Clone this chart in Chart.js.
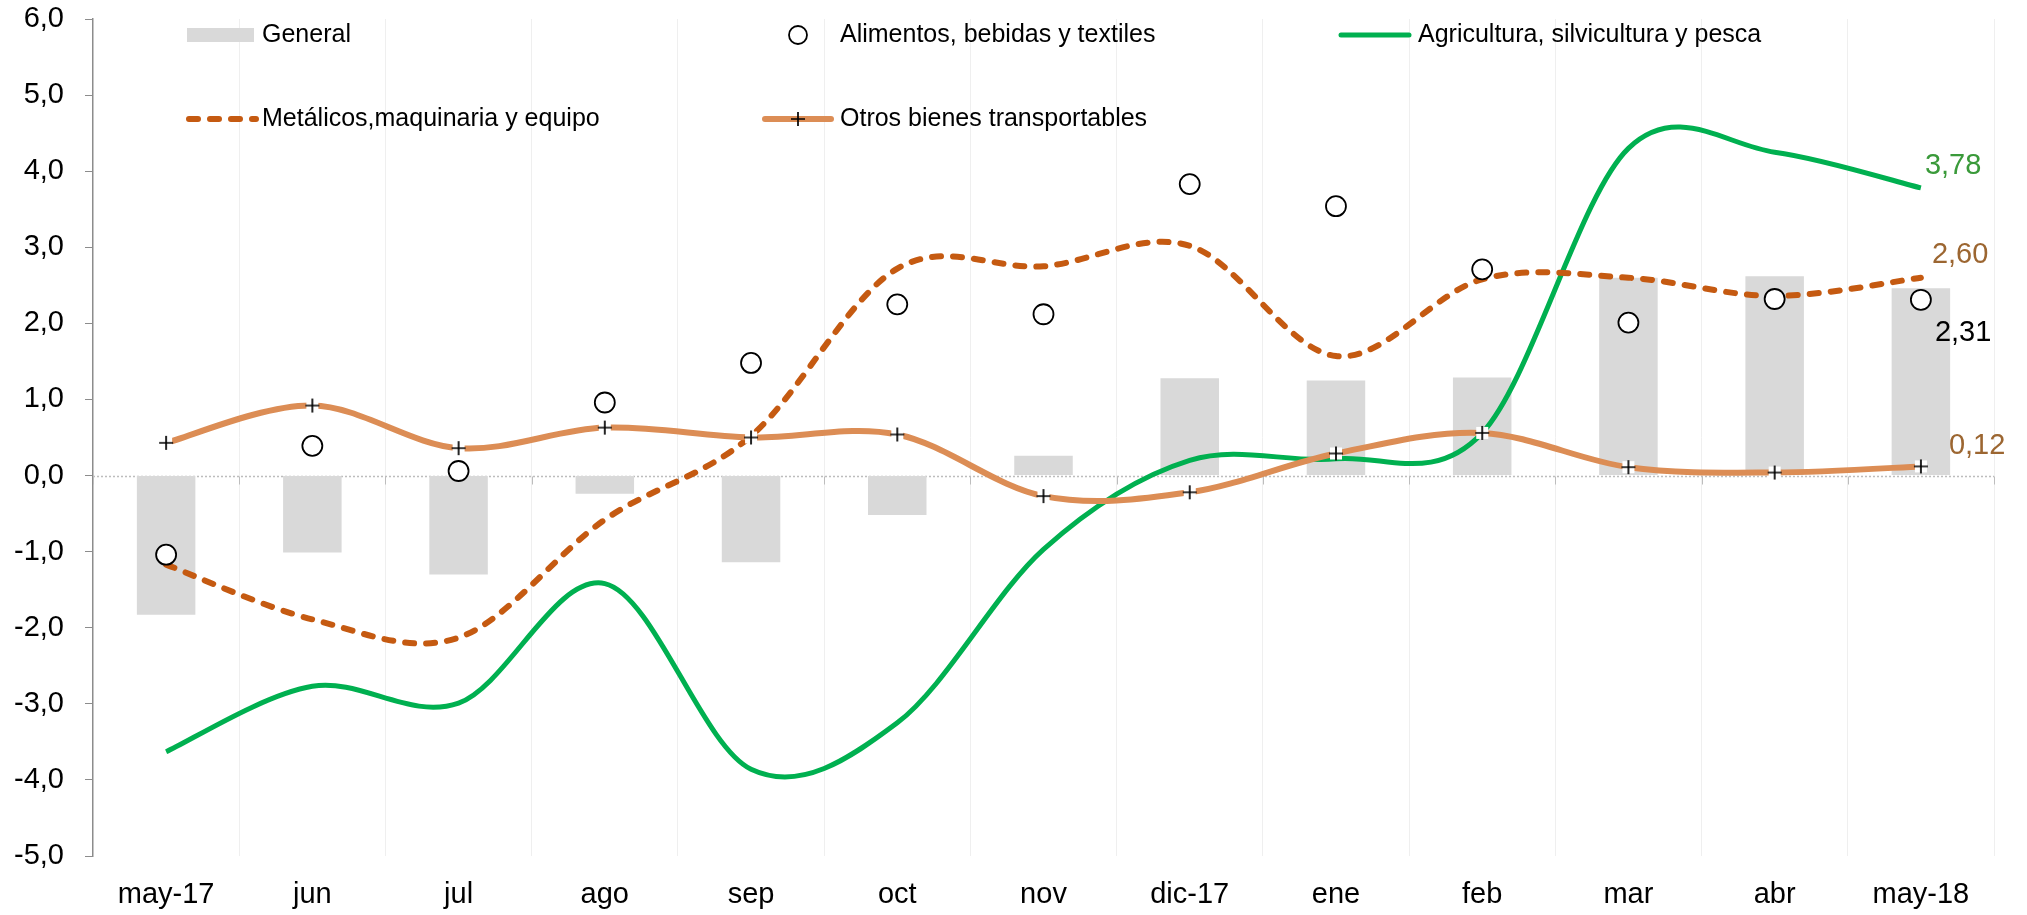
<!DOCTYPE html>
<html>
<head>
<meta charset="utf-8">
<script src="https://cdn.jsdelivr.net/npm/chart.js@4.4.0/dist/chart.umd.min.js"></script>
<style>
html, body { margin: 0; padding: 0; background: #fff; }
</style>
</head>
<body>
<canvas id="myChart" width="2027" height="915"></canvas>
<script>
// data
const months = ['may-17', 'jun', 'jul', 'ago', 'sep', 'oct', 'nov', 'dic-17', 'ene', 'feb', 'mar', 'abr', 'may-18'];
const general = [-1.83, -1.01, -1.30, -0.24, -1.14, -0.52, 0.26, 1.28, 1.25, 1.29, 2.60, 2.62, 2.46];
const alimentos = [-1.04, 0.39, 0.06, 0.96, 1.48, 2.25, 2.12, 3.83, 3.54, 2.71, 2.01, 2.32, 2.31];
const agricultura = [-3.63, -2.77, -2.99, -1.42, -3.86, -3.25, -0.97, 0.20, 0.22, 0.56, 4.30, 4.25, 3.78];
const metalicos = [-1.17, -1.89, -2.13, -0.58, 0.52, 2.72, 2.75, 3.02, 1.57, 2.58, 2.60, 2.36, 2.60];
const otros = [0.43, 0.92, 0.36, 0.63, 0.50, 0.54, -0.27, -0.22, 0.29, 0.56, 0.11, 0.04, 0.12];
const yTicks = [-5, -4, -3, -2, -1, 0, 1, 2, 3, 4, 5, 6];

const FONT = "'Liberation Sans', Arial, sans-serif";
const fmt = v => v.toFixed(1).replace('.', ',');

// + marker on a small white square
function plusMarker() {
    const c = document.createElement('canvas');
    c.width = 16; c.height = 16;
    const g = c.getContext('2d');
    g.fillStyle = '#fff';
    g.fillRect(2, 2, 12, 12);
    g.strokeStyle = '#000';
    g.lineWidth = 1.7;
    g.beginPath();
    g.moveTo(8, 1); g.lineTo(8, 15);
    g.moveTo(1, 8); g.lineTo(15, 8);
    g.stroke();
    return c;
}
const plus = plusMarker();

// Excel style smoothing (uniform Catmull-Rom) for the line control points
const excelSmooth = {
    id: 'excelSmooth',
    beforeDatasetsDraw(chart) {
        chart.data.datasets.forEach((ds, i) => {
            const meta = chart.getDatasetMeta(i);
            if (meta.type !== 'line' || ds.showLine === false) return;
            meta.dataset.updateControlPoints(chart.chartArea, 'x');
            const pts = meta.data;
            for (let k = 0; k < pts.length; k++) {
                const p = pts[k];
                const a = pts[Math.max(k - 1, 0)];
                const b = pts[Math.min(k + 1, pts.length - 1)];
                const tx = (b.x - a.x) / 6;
                const ty = (b.y - a.y) / 6;
                p.cp1x = p.x - tx; p.cp1y = p.y - ty;
                p.cp2x = p.x + tx; p.cp2y = p.y + ty;
            }
            meta.dataset._path = undefined;
        });
    }
};

// dotted zero line with small ticks at category boundaries
const zeroLine = {
    id: 'zeroLine',
    beforeDatasetsDraw(chart) {
        const {ctx, chartArea, scales} = chart;
        const y0 = Math.round(scales.y.getPixelForValue(0)) + 0.5;
        ctx.save();
        ctx.strokeStyle = '#bdbdbd';
        ctx.lineWidth = 1.5;
        ctx.setLineDash([2, 2]);
        ctx.beginPath();
        ctx.moveTo(chartArea.left, y0);
        ctx.lineTo(chartArea.right, y0);
        ctx.stroke();
        ctx.setLineDash([]);
        ctx.lineWidth = 1;
        const step = (chartArea.right - chartArea.left) / months.length;
        ctx.beginPath();
        for (let i = 0; i <= months.length; i++) {
            const x = Math.round(chartArea.left + i * step) + 0.5;
            ctx.moveTo(x, y0);
            ctx.lineTo(x, y0 + 8);
        }
        ctx.stroke();
        ctx.restore();
    }
};

// values written next to the last point
const endLabels = {
    id: 'endLabels',
    afterDatasetsDraw(chart) {
        const {ctx} = chart;
        const items = [
            {ds: 1, text: '3,78', color: '#3a9a3a', dx: 4, dy: -22},
            {ds: 2, text: '2,60', color: '#9c6631', dx: 11, dy: -23},
            {ds: 4, text: '2,31', color: '#000000', dx: 14, dy: 33},
            {ds: 3, text: '0,12', color: '#9c6631', dx: 28, dy: -20}
        ];
        ctx.save();
        ctx.font = '29px ' + FONT;
        ctx.textBaseline = 'middle';
        ctx.textAlign = 'left';
        items.forEach(it => {
            const pts = chart.getDatasetMeta(it.ds).data;
            const p = pts[pts.length - 1];
            ctx.fillStyle = it.color;
            ctx.fillText(it.text, p.x + it.dx, p.y + it.dy);
        });
        ctx.restore();
    }
};

// legend laid out in two rows like the original
const customLegend = {
    id: 'customLegend',
    afterDraw(chart) {
        const {ctx} = chart;
        ctx.save();
        ctx.font = '25px ' + FONT;
        ctx.textBaseline = 'middle';
        ctx.fillStyle = '#000';

        // General
        ctx.fillStyle = '#d9d9d9';
        ctx.fillRect(187, 28, 67, 14);
        ctx.fillStyle = '#000';
        ctx.fillText('General', 262, 35);

        // Alimentos
        ctx.beginPath();
        ctx.arc(798, 35, 9, 0, Math.PI * 2);
        ctx.fillStyle = '#fff';
        ctx.fill();
        ctx.lineWidth = 1.8;
        ctx.strokeStyle = '#000';
        ctx.stroke();
        ctx.fillStyle = '#000';
        ctx.fillText('Alimentos, bebidas y textiles', 840, 35);

        // Agricultura
        ctx.lineCap = 'round';
        ctx.strokeStyle = '#00b050';
        ctx.lineWidth = 5;
        ctx.beginPath();
        ctx.moveTo(1341, 35); ctx.lineTo(1409, 35);
        ctx.stroke();
        ctx.fillText('Agricultura, silvicultura y pesca', 1418, 35);

        // Metálicos
        ctx.strokeStyle = '#c55a11';
        ctx.lineWidth = 6;
        ctx.setLineDash([9, 12]);
        ctx.beginPath();
        ctx.moveTo(189, 119); ctx.lineTo(256, 119);
        ctx.stroke();
        ctx.setLineDash([]);
        ctx.fillText('Metálicos,maquinaria y equipo', 262, 119);

        // Otros
        ctx.strokeStyle = '#dc8d55';
        ctx.lineWidth = 6;
        ctx.beginPath();
        ctx.moveTo(765, 119); ctx.lineTo(831, 119);
        ctx.stroke();
        ctx.strokeStyle = '#000';
        ctx.lineWidth = 1.7;
        ctx.lineCap = 'butt';
        ctx.beginPath();
        ctx.moveTo(798, 112); ctx.lineTo(798, 126);
        ctx.moveTo(791, 119); ctx.lineTo(805, 119);
        ctx.stroke();
        ctx.fillText('Otros bienes transportables', 840, 119);
        ctx.restore();
    }
};

const ctx = document.getElementById('myChart').getContext('2d');
const myChart = new Chart(ctx, {
    data: {
        labels: months,
        datasets: [
            {
                type: 'bar',
                label: 'General',
                data: general,
                backgroundColor: '#d9d9d9',
                barPercentage: 0.4,
                categoryPercentage: 1.0,
                order: 5
            },
            {
                type: 'line',
                label: 'Agricultura, silvicultura y pesca',
                data: agricultura,
                borderColor: '#00b050',
                borderWidth: 5,
                tension: 0.4,
                capBezierPoints: false,
                pointRadius: 0,
                fill: false,
                order: 4
            },
            {
                type: 'line',
                label: 'Metálicos,maquinaria y equipo',
                data: metalicos,
                borderColor: '#c55a11',
                borderWidth: 6,
                borderDash: [9, 12],
                borderCapStyle: 'round',
                tension: 0.4,
                capBezierPoints: false,
                pointRadius: 0,
                fill: false,
                order: 3
            },
            {
                type: 'line',
                label: 'Otros bienes transportables',
                data: otros,
                borderColor: '#dc8d55',
                borderWidth: 6,
                tension: 0.4,
                capBezierPoints: false,
                pointStyle: plus,
                pointRadius: 8,
                fill: false,
                order: 2
            },
            {
                type: 'line',
                label: 'Alimentos, bebidas y textiles',
                data: alimentos,
                showLine: false,
                pointRadius: 10,
                pointBackgroundColor: '#ffffff',
                pointBorderColor: '#000000',
                pointBorderWidth: 1.8,
                borderColor: '#000000',
                order: 1
            }
        ]
    },
    options: {
        responsive: false,
        animation: false,
        layout: {
            padding: {left: 0, right: 33, top: 0, bottom: 0}
        },
        plugins: {
            legend: {display: false},
            tooltip: {enabled: false}
        },
        scales: {
            x: {
                offset: true,
                grid: {
                    offset: true,
                    color: '#efefef',
                    lineWidth: 1,
                    drawTicks: false
                },
                border: {display: false},
                ticks: {
                    color: '#000',
                    font: {family: FONT, size: 29},
                    padding: 22,
                    autoSkip: false,
                    maxRotation: 0
                },
                afterFit(scale) {
                    scale.height = 59;
                }
            },
            y: {
                min: -5,
                max: 6,
                afterBuildTicks(scale) {
                    scale.ticks = yTicks.map(v => ({value: v}));
                },
                grid: {
                    drawOnChartArea: false,
                    drawTicks: true,
                    tickLength: 8,
                    tickColor: '#8c8c8c'
                },
                border: {display: true, color: '#8c8c8c', width: 1.5},
                ticks: {
                    color: '#000',
                    font: {family: FONT, size: 29},
                    padding: 21,
                    callback: v => fmt(v)
                },
                afterFit(scale) {
                    scale.width = 93;
                    scale.paddingTop = 19;
                    scale.paddingBottom = 0;
                }
            }
        }
    },
    plugins: [excelSmooth, zeroLine, endLabels, customLegend]
});
</script>
</body>
</html>
